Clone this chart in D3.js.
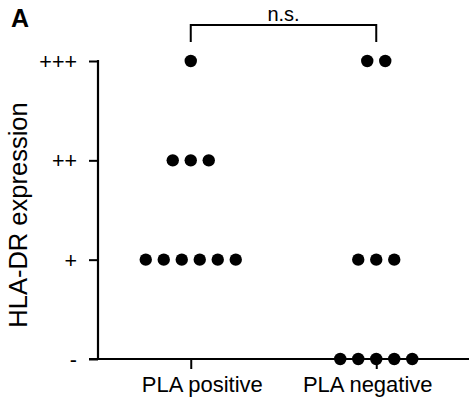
<!DOCTYPE html>
<html><head><meta charset="utf-8">
<script src="https://cdn.jsdelivr.net/npm/d3@7"></script>
<style>body{margin:0;background:#fff}svg{display:block}text{font-family:"Liberation Sans",Arial,sans-serif;fill:#000}</style>
</head><body>
<svg id="c" width="470" height="401"></svg>
<script>
const groups = ["PLA positive", "PLA negative"];
const levelLabels = ["-", "+", "++", "+++"];
// HLA-DR expression level (index into levelLabels) per patient
const plaPositive = [3, 2, 2, 2, 1, 1, 1, 1, 1, 1];
const plaNegative = [3, 3, 1, 1, 1, 0, 0, 0, 0, 0];
const seriesValues = [plaPositive, plaNegative];
const sigLabel = "n.s.";

const svg = d3.select("#c");
const x = d3.scalePoint().domain(groups).range([98, 469]).padding(0.5);
const y = d3.scaleLinear().domain([0, 3]).range([359, 61]);

// y axis
const yAxis = svg.append("g").attr("transform", "translate(98,0)")
  .call(d3.axisLeft(y).tickValues([0,1,2,3]).tickFormat(d => levelLabels[d]).tickSize(9).tickPadding(12).tickSizeOuter(0));
yAxis.select(".domain").attr("stroke-width", 2.2).attr("d", `M0,${y(3)-1}V${y(0)}`);
yAxis.selectAll(".tick line").attr("stroke-width", 2);
yAxis.selectAll(".tick text").style("font-size", "21.5px").attr("dy", "0.35em");

// x axis
const xAxis = svg.append("g").attr("transform", `translate(0,${y(0)})`)
  .call(d3.axisBottom(x).tickSize(10).tickPadding(7).tickSizeOuter(0));
xAxis.select(".domain").attr("stroke-width", 2.2).attr("d", "M89,0H469");
xAxis.selectAll(".tick line").attr("stroke-width", 2);
xAxis.selectAll(".tick text").style("font-size", "22px").attr("dy", "0.71em")
  .attr("dx", (d, i) => i === 0 ? 11 : -9);

// dots
const step = 18;
groups.forEach((g, gi) => {
  const vals = seriesValues[gi];
  const counts = d3.rollup(vals, v => v.length, d => d);
  const seen = new Map();
  const pts = vals.map(v => {
    const n = counts.get(v), i = seen.get(v) || 0; seen.set(v, i + 1);
    return {cx: x(g) + (i - (n - 1) / 2) * step, cy: y(v)};
  });
  svg.append("g").selectAll("circle").data(pts).join("circle")
    .attr("cx", d => d.cx).attr("cy", d => d.cy).attr("r", 6.2).attr("fill", "#000");
});

// significance bracket
const by = 25;
svg.append("path").attr("fill", "none").attr("stroke", "#000").attr("stroke-width", 2)
  .attr("d", `M${x(groups[0])},42V${by}H${x(groups[1])}V42`);
svg.append("text").attr("x", (x(groups[0]) + x(groups[1])) / 2).attr("y", 21)
  .attr("text-anchor", "middle").style("font-size", "20px").text(sigLabel);

// y label
svg.append("text").attr("transform", "translate(27,215) rotate(-90)")
  .attr("text-anchor", "middle").style("font-size", "25.5px").text("HLA-DR expression");

// panel letter
svg.append("text").attr("x", 11).attr("y", 27).style("font-size", "25px").style("font-weight", "bold").text("A");
</script>
</body></html>
